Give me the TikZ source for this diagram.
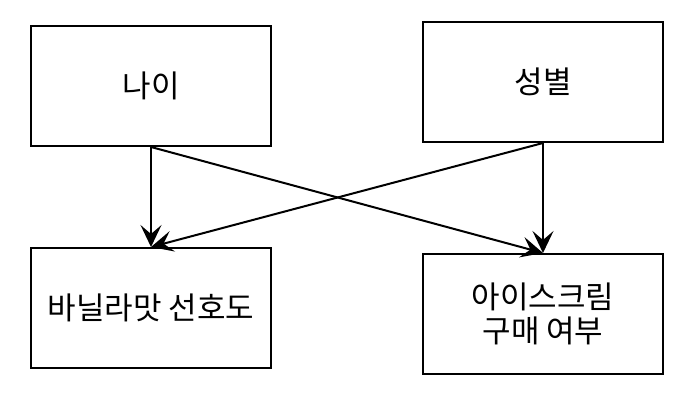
\documentclass[tikz,border=0pt]{standalone}
\usepackage{fontspec}
\setmainfont{Noto Sans CJK KR}
\usetikzlibrary{arrows.meta}
\begin{document}
\begin{tikzpicture}[x=1pt,y=-1pt,
  box/.style={draw,line width=2pt,minimum width=240pt,minimum height=120pt,inner sep=0pt,font=\fontsize{31}{34}\selectfont,align=center},
  conn/.style={line width=2pt,-{Stealth[length=22pt,width=21pt,inset=9pt]}}]
\useasboundingbox[fill=white] (0,0) rectangle (690,414);
\node[box] (age) at (151,86) {나이};
\node[box] (sex) at (543,82) {성별};
\node[box] (van) at (151,308) {바닐라맛 선호도};
\node[box] (ice) at (543,314) {아이스크림\\구매 여부};
\draw[conn] (age.south) -- (van.north);
\draw[conn] (age.south) -- (ice.north);
\draw[conn] (sex.south) -- (van.north);
\draw[conn] (sex.south) -- (ice.north);
\end{tikzpicture}
\end{document}
